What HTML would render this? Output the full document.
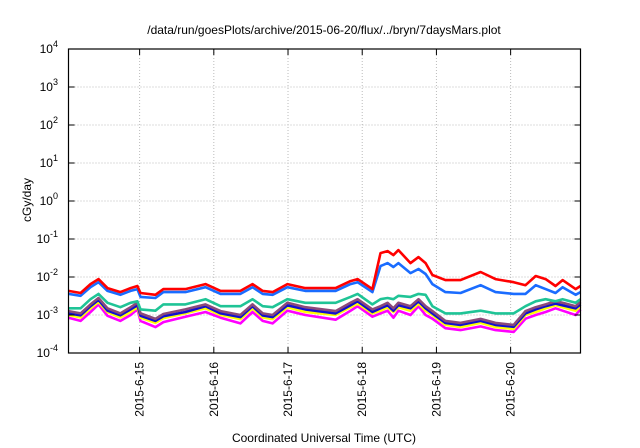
<!DOCTYPE html>
<html><head><meta charset="utf-8"><style>
body{margin:0;background:#fff;}
svg{display:block;font-family:"Liberation Sans",sans-serif;}
</style></head><body>
<svg id="chart" width="640" height="448" viewBox="0 0 640 448" xmlns="http://www.w3.org/2000/svg">
<rect width="640" height="448" fill="#fff"/>
<text x="324" y="34" font-size="12" text-anchor="middle">/data/run/goesPlots/archive/2015-06-20/flux/../bryn/7daysMars.plot</text>
<text x="324" y="442" font-size="12" text-anchor="middle">Coordinated Universal Time (UTC)</text>
<text transform="translate(31,200) rotate(-90)" font-size="12" text-anchor="middle">cGy/day</text>
<g id="grid"></g>
<g id="series"></g>
<g id="axes"></g>
</svg>
<script>
const hours=[1,4.9,8.1,10.7,13.6,17.8,21.1,23.3,24.3,29.1,31.7,38.8,45.3,50.2,56.6,60.5,63.8,67.0,71.8,77.6,87.4,92.2,94.5,99.3,101.9,104.2,106.1,107.7,111.6,114.2,116.5,118.7,122.9,127.8,134.3,139.1,145.0,148.8,152.1,155.3,158.5,160.8,165.0,166.6];
const red=[.0043,.0038,.0065,.0088,.0051,.0040,.0051,.0058,.0038,.0034,.0048,.0048,.0065,.0043,.0043,.0065,.0043,.0040,.0065,.0051,.0051,.0078,.0088,.0048,.0426,.048,.0377,.051,.0232,.0334,.0232,.0113,.0083,.0083,.0135,.0088,.0073,.0061,.0106,.0088,.0058,.0083,.0048,.0058];
const blue=[.0036,.0032,.0054,.0073,.0043,.0034,.0043,.0048,.0030,.0028,.0040,.0040,.0054,.0036,.0036,.0054,.0036,.0034,.0054,.0043,.0043,.0065,.0073,.0040,.0194,.0232,.0183,.0232,.0127,.0162,.0120,.0065,.0040,.0038,.0061,.0040,.0036,.0036,.0061,.0048,.0038,.0054,.0034,.0040];
const green=[.0015,.0015,.0026,.0036,.0021,.0016,.0021,.0023,.0014,.0013,.0019,.0019,.0026,.0017,.0017,.0026,.0017,.0016,.0026,.0021,.0021,.0030,.0036,.0019,.0026,.0028,.0026,.0032,.0030,.0036,.0034,.0017,.0011,.0011,.0013,.0011,.0011,.0017,.0023,.0026,.0023,.0026,.0021,.0026];
const purple=[.00127,.0011,.0019,.0028,.0015,.0011,.0016,.0021,.0011,.00079,.00106,.0014,.0019,.00127,.0010,.0019,.0011,.0010,.0021,.0016,.00127,.0021,.0026,.0014,.0017,.0021,.0015,.0021,.0017,.0026,.0017,.00127,.0007,.00062,.00079,.00062,.00055,.00127,.0016,.0019,.0023,.0021,.0017,.0022];
const darkblue=[.0011,.00098,.0017,.0025,.0013,.00098,.0014,.0018,.00095,.0007,.00093,.0012,.0017,.0011,.00088,.0017,.00097,.00088,.0018,.0014,.0011,.0018,.0023,.0012,.0015,.0018,.0013,.0018,.0015,.0023,.0015,.0011,.00062,.00055,.0007,.00055,.00049,.0011,.0014,.0017,.002,.0018,.0015,.0019];
const yellow=[.001,.00086,.0015,.0022,.0012,.00086,.0012,.0016,.00086,.00062,.00083,.0011,.0015,.001,.00078,.0015,.00086,.00078,.0016,.0012,.001,.0016,.002,.0011,.0013,.0016,.0012,.0016,.0013,.002,.0013,.001,.00055,.00048,.00062,.00048,.00043,.001,.0012,.0015,.0018,.0016,.0013,.0017];
const magenta=[.00085,.0007,.0012,.0019,.00095,.0007,.001,.0014,.0007,.00048,.00065,.0009,.0012,.00085,.0006,.0012,.0007,.0006,.0013,.001,.00075,.0013,.0017,.0009,.0011,.0013,.00085,.0013,.001,.0017,.001,.0008,.00045,.0004,.0005,.0004,.00036,.0008,.001,.0012,.0015,.0013,.001,.0014];
const xTickHours=[24,48,72,96,120,144];
const xTickLabels=["2015-6-15","2015-6-16","2015-6-17","2015-6-18","2015-6-19","2015-6-20"];
const yTickExps=[-4,-3,-2,-1,0,1,2,3,4];

const NS="http://www.w3.org/2000/svg";
const L=68.5,R=580.5,T=49,B=353,H0=1,H1=166.6,E0=-4,E1=4;
function xs(h){return L+(h-H0)/(H1-H0)*(R-L);}
function ys(v){return B-(Math.log10(v)-E0)/(E1-E0)*(B-T);}
function mk(tag,attrs,parent){const e=document.createElementNS(NS,tag);for(const k in attrs)e.setAttribute(k,attrs[k]);parent.appendChild(e);return e;}
const grid=document.getElementById('grid'),axes=document.getElementById('axes'),ser=document.getElementById('series');

yTickExps.forEach(e=>{
  const y=ys(Math.pow(10,e));
  if(e>E0&&e<E1){const g=mk('line',{x1:L,x2:R,y1:y,y2:y,stroke:'#bbb','stroke-width':1,'stroke-dasharray':'1,2'},grid);
  
  }
  const t1=mk('line',{x1:L,x2:L+6,y1:y,y2:y,stroke:'#000'},axes);
  
  
  const t2=mk('line',{x1:R,x2:R-6,y1:y,y2:y,stroke:'#000'},axes);
  
  
  const tx=mk('text',{x:58,y:y+4,'font-size':12,'text-anchor':'end'},axes);
  
  
  tx.textContent='10';
  const sp=mk('tspan',{dy:-6,'font-size':9},tx);sp.textContent=String(e);
});
xTickHours.forEach((h,i)=>{
  const x=xs(h);
  const g=mk('line',{x1:x,x2:x,y1:T,y2:B,stroke:'#bbb','stroke-width':1,'stroke-dasharray':'1,2'},grid);
  
  
  const t1=mk('line',{x1:x,x2:x,y1:B,y2:B-6,stroke:'#000'},axes);
  
  
  const t2=mk('line',{x1:x,x2:x,y1:T,y2:T+6,stroke:'#000'},axes);
  
  
  const tx=mk('text',{transform:`translate(${x+4},362) rotate(-90)`,'font-size':12,'text-anchor':'end'},axes);
  
  
  tx.textContent=xTickLabels[i];
});
const frame=mk('rect',{x:L,y:T,width:R-L,height:B-T,fill:'none',stroke:'#000','stroke-width':1.2},axes);



const seriesList=[[red,'#ff0000','red-series'],[blue,'#1a6cff','blue-series'],[green,'#1fc496','green-series'],[purple,'#8b4a7a','purple-series'],[darkblue,'#1010d0','darkblue-series'],[yellow,'#ffff00','yellow-series'],[magenta,'#ff00ff','magenta-series']];
seriesList.slice().reverse().forEach(([vals,col,name])=>{
  const d=vals.map((v,i)=>(i?'L':'M')+xs(hours[i]).toFixed(1)+','+ys(v).toFixed(1)).join('');
  const p=mk('path',{d:d,fill:'none',stroke:col,'stroke-width':2.6,'stroke-linejoin':'round'},ser);
  
  
});
</script>
</body></html>
